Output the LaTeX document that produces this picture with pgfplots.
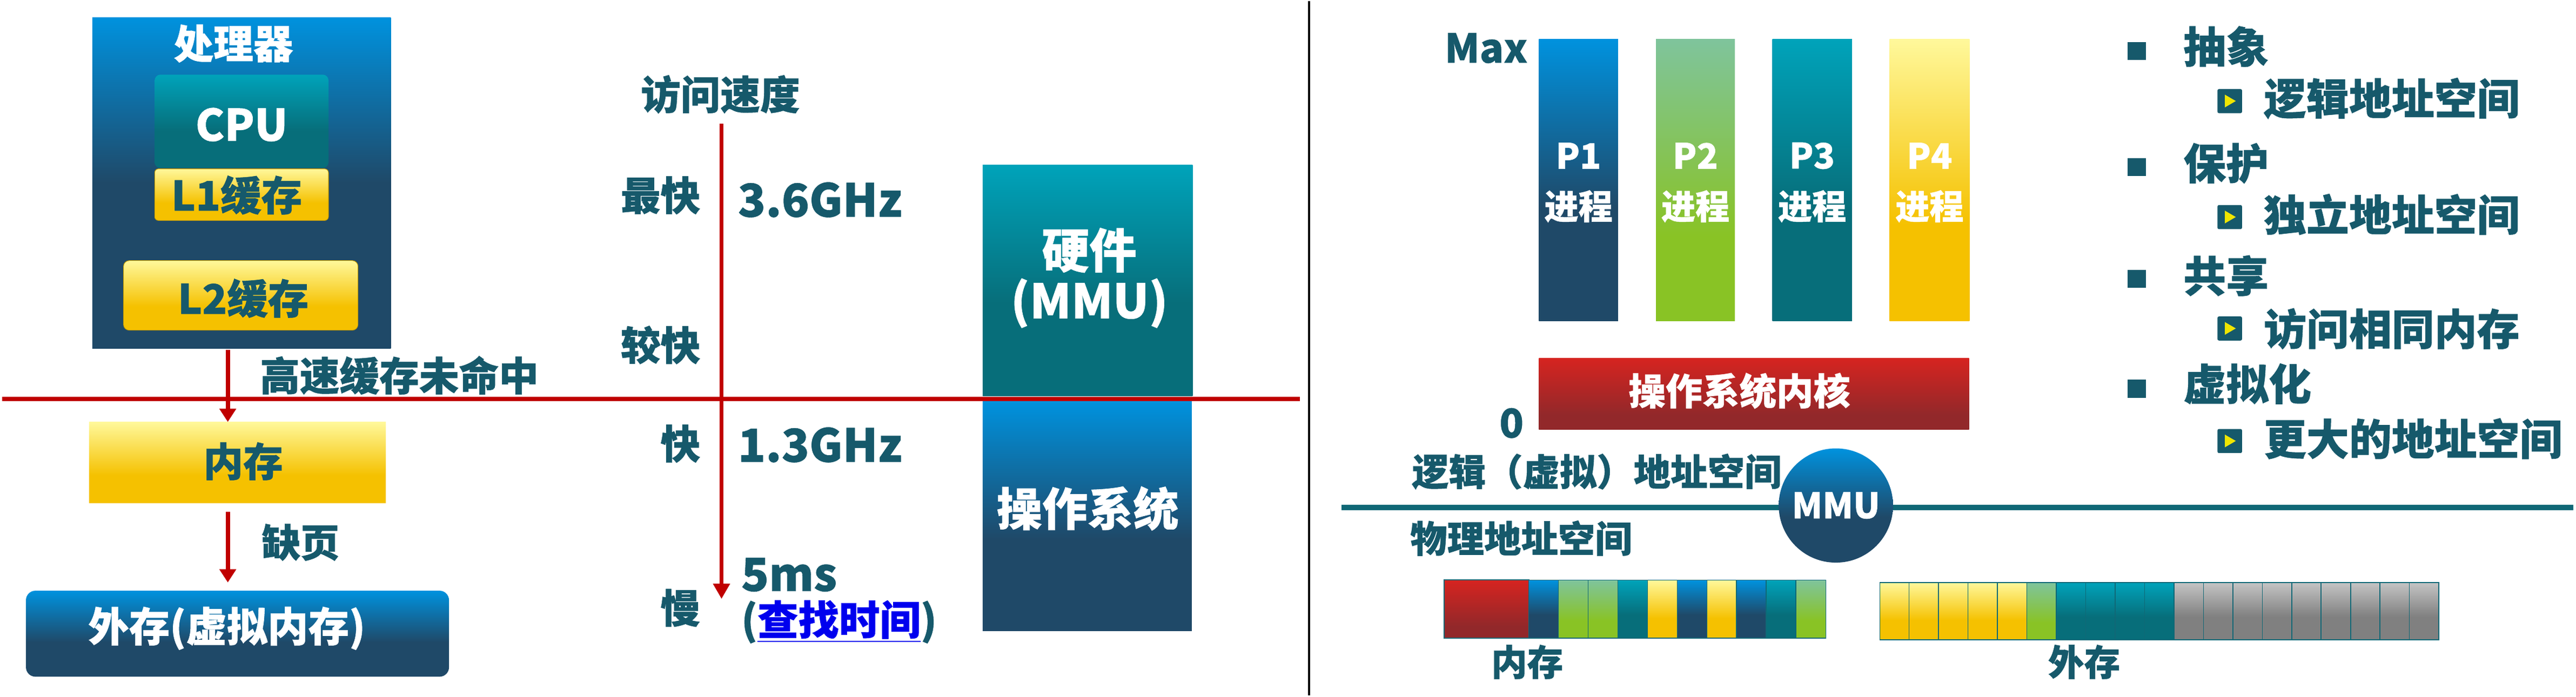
\documentclass[border=0pt]{standalone}
\usepackage{fontspec}
\setmainfont{Noto Sans CJK SC}[BoldFeatures={FakeBold=0.7}]
\usepackage{pgfplots}
\pgfplotsset{compat=1.18}
\usetikzlibrary{arrows.meta}

\definecolor{tcol}{RGB}{22,89,107}
\definecolor{redline}{RGB}{192,0,0}
\definecolor{blueT}{RGB}{0,146,222}
\definecolor{blueB}{RGB}{31,73,104}
\definecolor{tealT}{RGB}{0,163,186}
\definecolor{tealB}{RGB}{7,110,122}
\definecolor{yelT}{RGB}{255,248,155}
\definecolor{yelB}{RGB}{245,193,0}
\definecolor{grnT}{RGB}{127,196,156}
\definecolor{grnB}{RGB}{137,195,37}
\definecolor{redT}{RGB}{214,36,32}
\definecolor{redB}{RGB}{146,40,42}
\definecolor{grayT}{RGB}{196,196,196}
\definecolor{grayB}{RGB}{128,128,128}
\definecolor{linkblue}{RGB}{0,0,238}
\definecolor{tline}{RGB}{16,104,118}
\definecolor{yellowtri}{RGB}{240,230,0}

\pgfdeclareverticalshading{gblue}{100bp}{color(0bp)=(blueB); color(45bp)=(blueB); color(75bp)=(blueT); color(100bp)=(blueT)}
\pgfdeclareverticalshading{gbluep}{100bp}{color(0bp)=(blueB); color(50bp)=(blueB); color(75bp)=(blueT); color(100bp)=(blueT)}
\pgfdeclareverticalshading{gteal}{100bp}{color(0bp)=(tealB); color(45bp)=(tealB); color(75bp)=(tealT); color(100bp)=(tealT)}
\pgfdeclareverticalshading{gyel}{100bp}{color(0bp)=(yelB); color(42bp)=(yelB); color(75bp)=(yelT); color(100bp)=(yelT)}
\pgfdeclareverticalshading{ggrn}{100bp}{color(0bp)=(grnB); color(40bp)=(grnB); color(75bp)=(grnT); color(100bp)=(grnT)}
\pgfdeclareverticalshading{gred}{100bp}{color(0bp)=(redB); color(35bp)=(redB); color(75bp)=(redT); color(100bp)=(redT)}
\pgfdeclareverticalshading{ggray}{100bp}{color(0bp)=(grayB); color(45bp)=(grayB); color(75bp)=(grayT); color(100bp)=(grayT)}

\newcommand{\gbox}[6][]{\addplot[draw=none, shade, shading=#2, #1] coordinates {(#3,#4) (#5,#4) (#5,#6) (#3,#6)} -- cycle;}
\newcommand{\fs}[1]{\fontsize{#1}{#1}\selectfont\bfseries}

\begin{document}
\begin{tikzpicture}
\begin{axis}[width=47.68cm, height=12.89cm, scale only axis,
  xmin=0, xmax=1568, ymin=0, ymax=424, y dir=reverse, hide axis, clip=false]

% background
\addplot[fill=white, draw=none] coordinates {(0,0) (1568,0) (1568,424) (0,424)} -- cycle;

% ---------- left part ----------
\gbox{gbluep}{55}{10}{237}{212}
\gbox[rounded corners=3pt]{gteal}{93}{45}{199}{102}
\gbox[rounded corners=2pt, draw=yelB!80!black, line width=0.3pt]{gyel}{93}{102.5}{199}{134}
\gbox[rounded corners=3pt, draw=yelB!80!black, line width=0.3pt]{gyel}{74}{158.5}{217}{201}
\gbox{gyel}{53}{257}{234}{306.5}
\gbox[rounded corners=5pt]{gblue}{14.5}{360}{272.5}{412.5}

\addplot[redline, line width=2.2pt, -{Triangle[length=7pt,width=8.5pt]}] coordinates {(137.6,213) (137.6,257)};
\addplot[redline, line width=2.2pt, -{Triangle[length=7pt,width=8.5pt]}] coordinates {(137.6,312) (137.6,355)};

\node[text=white, font=\fs{21}] at (141,26) {处理器};
\node[text=white, font=\fs{23}] at (146,75.5) {CPU};
\node[text=tcol, font=\fs{21.5}] at (143,118.5) {L1缓存};
\node[text=tcol, font=\fs{21.5}] at (147,181.5) {L2缓存};
\node[text=tcol, font=\fs{21}, anchor=west, inner sep=0pt] at (157,228.5) {高速缓存未命中};
\node[text=tcol, font=\fs{21}] at (147,281) {内存};
\node[text=tcol, font=\fs{20.5}, anchor=west, inner sep=0pt] at (158,330.5) {缺页};
\node[text=white, font=\fs{21.5}] at (137,383) {外存(虚拟内存)};

% ---------- middle part ----------
\gbox{gteal}{598}{100}{726}{241}
\gbox{gblue}{598}{244.5}{725.5}{384.5}

\addplot[redline, line width=2.3pt] coordinates {(0,243) (791.5,243)};
\addplot[redline, line width=2.2pt, -{Triangle[length=8pt,width=8.5pt]}] coordinates {(438.7,75) (438.7,365)};
\addplot[black, line width=1pt] coordinates {(797,0) (797,424)};

\node[text=tcol, font=\fs{21}] at (438,57) {访问速度};
\node[text=tcol, font=\fs{21}, anchor=east, inner sep=0pt] at (426,118.7) {最快};
\node[text=tcol, font=\fs{21}, anchor=east, inner sep=0pt] at (426,210) {较快};
\node[text=tcol, font=\fs{21}, anchor=east, inner sep=0pt] at (426,270.3) {快};
\node[text=tcol, font=\fs{21}, anchor=east, inner sep=0pt] at (426,370.5) {慢};
\node[text=tcol, font=\fs{24}, anchor=west, inner sep=0pt] at (448.5,121.4) {3.6GHz};
\node[text=tcol, font=\fs{24}, anchor=west, inner sep=0pt] at (448.5,271) {1.3GHz};
\node[text=tcol, font=\fs{24}, anchor=west, inner sep=0pt] at (450.5,350.3) {5ms};
\node[text=tcol, font=\fs{21.5}, anchor=west, inner sep=0pt] at (450.5,379) {(\textcolor{linkblue}{\underline{查找时间}})};
\node[text=white, font=\fs{25}] at (663,152.2) {硬件};
\node[text=white, font=\fs{25}] at (663,184.5) {(MMU)};
\node[text=white, font=\fs{24}] at (662,309.8) {操作系统};

% ---------- right part: address spaces ----------
\gbox{gblue}{937.2}{23.4}{985.4}{195.2}
\gbox{ggrn}{1008.6}{23.4}{1056.7}{195.2}
\gbox{gteal}{1079.6}{23.4}{1128.1}{195.2}
\gbox{gyel}{1151}{23.4}{1199.8}{195.2}
\gbox{gred}{937.2}{218}{1199.5}{261.5}

\node[text=tcol, font=\fs{21}] at (905,28.8) {Max};
\node[text=tcol, font=\fs{21}] at (920.5,257.7) {0};
\node[text=white, font=\fs{18.5}] at (961.3,94.5) {P1};
\node[text=white, font=\fs{18}] at (961.3,125.4) {进程};
\node[text=white, font=\fs{18.5}] at (1032.6,94.5) {P2};
\node[text=white, font=\fs{18}] at (1032.6,125.4) {进程};
\node[text=white, font=\fs{18.5}] at (1103.8,94.5) {P3};
\node[text=white, font=\fs{18}] at (1103.8,125.4) {进程};
\node[text=white, font=\fs{18.5}] at (1175.4,94.5) {P4};
\node[text=white, font=\fs{18}] at (1175.4,125.4) {进程};
\node[text=white, font=\fs{19.5}] at (1059.5,238) {操作系统内核};

\node[text=tcol, font=\fs{19.5}, anchor=west, inner sep=0pt] at (859.5,287.3) {逻辑（虚拟）地址空间};
\node[text=tcol, font=\fs{19.5}, anchor=west, inner sep=0pt] at (858.5,328) {物理地址空间};

\addplot[tline, line width=2.9pt] coordinates {(816.8,309.2) (1568,309.2)};
\node[circle, shade, shading=gblue, minimum size=2.12cm, inner sep=0pt, text=white, font=\fs{18.5}] at (1118.3,308) {MMU};

% physical memory strip
\gbox[draw=tline, line width=0.5pt]{gred}{879.3}{353.5}{931}{389}
\gbox[draw=tline, line width=0.4pt]{gblue}{931}{353.5}{949.1}{389}
\gbox[draw=tline, line width=0.4pt]{ggrn}{949.1}{353.5}{967.2}{389}
\gbox[draw=tline, line width=0.4pt]{ggrn}{967.2}{353.5}{985.3}{389}
\gbox[draw=tline, line width=0.4pt]{gteal}{985.3}{353.5}{1003.4}{389}
\gbox[draw=tline, line width=0.4pt]{gyel}{1003.4}{353.5}{1021.5}{389}
\gbox[draw=tline, line width=0.4pt]{gblue}{1021.5}{353.5}{1039.6}{389}
\gbox[draw=tline, line width=0.4pt]{gyel}{1039.6}{353.5}{1057.7}{389}
\gbox[draw=tline, line width=0.4pt]{gblue}{1057.7}{353.5}{1075.8}{389}
\gbox[draw=tline, line width=0.4pt]{gteal}{1075.8}{353.5}{1093.9}{389}
\gbox[draw=tline, line width=0.4pt]{ggrn}{1093.9}{353.5}{1112.2}{389}

% disk strip
\gbox[draw=tline, line width=0.4pt]{gyel}{1145.1}{355}{1163.0}{390}
\gbox[draw=tline, line width=0.4pt]{gyel}{1163.0}{355}{1180.9}{390}
\gbox[draw=tline, line width=0.4pt]{gyel}{1180.9}{355}{1198.8}{390}
\gbox[draw=tline, line width=0.4pt]{gyel}{1198.8}{355}{1216.8}{390}
\gbox[draw=tline, line width=0.4pt]{gyel}{1216.8}{355}{1234.7}{390}
\gbox[draw=tline, line width=0.4pt]{ggrn}{1234.7}{355}{1252.7}{390}
\gbox[draw=tline, line width=0.4pt]{gteal}{1252.7}{355}{1270.6}{390}
\gbox[draw=tline, line width=0.4pt]{gteal}{1270.6}{355}{1288.6}{390}
\gbox[draw=tline, line width=0.4pt]{gteal}{1288.6}{355}{1306.5}{390}
\gbox[draw=tline, line width=0.4pt]{gteal}{1306.5}{355}{1324.5}{390}
\gbox[draw=tline, line width=0.4pt]{ggray}{1324.5}{355}{1342.4}{390}
\gbox[draw=tline, line width=0.4pt]{ggray}{1342.4}{355}{1360.4}{390}
\gbox[draw=tline, line width=0.4pt]{ggray}{1360.4}{355}{1378.3}{390}
\gbox[draw=tline, line width=0.4pt]{ggray}{1378.3}{355}{1396.3}{390}
\gbox[draw=tline, line width=0.4pt]{ggray}{1396.3}{355}{1414.2}{390}
\gbox[draw=tline, line width=0.4pt]{ggray}{1414.2}{355}{1432.2}{390}
\gbox[draw=tline, line width=0.4pt]{ggray}{1432.2}{355}{1450.1}{390}
\gbox[draw=tline, line width=0.4pt]{ggray}{1450.1}{355}{1468.1}{390}
\gbox[draw=tline, line width=0.4pt]{ggray}{1468.1}{355}{1486.0}{390}

\node[text=tcol, font=\fs{19}] at (930,403.5) {内存};
\node[text=tcol, font=\fs{19}] at (1269.7,403.5) {外存};

% ---------- right part: bullets ----------
\addplot[fill=tcol, draw=none] coordinates {(1296.3,25.1) (1307.3,25.1) (1307.3,36.1) (1296.3,36.1)} -- cycle;
\addplot[fill=tcol, draw=none] coordinates {(1296.3,96.0) (1307.3,96.0) (1307.3,107.0) (1296.3,107.0)} -- cycle;
\addplot[fill=tcol, draw=none] coordinates {(1296.3,164.2) (1307.3,164.2) (1307.3,175.2) (1296.3,175.2)} -- cycle;
\addplot[fill=tcol, draw=none] coordinates {(1296.3,231.2) (1307.3,231.2) (1307.3,242.2) (1296.3,242.2)} -- cycle;

\addplot[fill=tcol, draw=none, rounded corners=0.8pt] coordinates {(1351,53.8) (1366,53.8) (1366,68.5) (1351,68.5)} -- cycle;
\addplot[fill=tcol, draw=none, rounded corners=0.8pt] coordinates {(1351,124.6) (1366,124.6) (1366,139.3) (1351,139.3)} -- cycle;
\addplot[fill=tcol, draw=none, rounded corners=0.8pt] coordinates {(1351,192.6) (1366,192.6) (1366,207.3) (1351,207.3)} -- cycle;
\addplot[fill=tcol, draw=none, rounded corners=0.8pt] coordinates {(1351,261.3) (1366,261.3) (1366,276.0) (1351,276.0)} -- cycle;
\addplot[fill=yellowtri, draw=none] coordinates {(1355.5,57.2) (1362.2,61.1) (1355.5,65.0)} -- cycle;
\addplot[fill=yellowtri, draw=none] coordinates {(1355.5,128.0) (1362.2,131.9) (1355.5,135.8)} -- cycle;
\addplot[fill=yellowtri, draw=none] coordinates {(1355.5,196.0) (1362.2,199.9) (1355.5,203.8)} -- cycle;
\addplot[fill=yellowtri, draw=none] coordinates {(1355.5,264.7) (1362.2,268.6) (1355.5,272.5)} -- cycle;

\node[text=tcol, font=\fs{22.5}, anchor=west, inner sep=0pt] at (1330,27.8) {抽象};
\node[text=tcol, font=\fs{22.5}, anchor=west, inner sep=0pt] at (1330,99.1) {保护};
\node[text=tcol, font=\fs{22.5}, anchor=west, inner sep=0pt] at (1330,167.7) {共享};
\node[text=tcol, font=\fs{22.5}, anchor=west, inner sep=0pt] at (1330,233.7) {虚拟化};
\node[text=tcol, font=\fs{22.5}, anchor=west, inner sep=0pt] at (1379,59.5) {逻辑地址空间};
\node[text=tcol, font=\fs{22.5}, anchor=west, inner sep=0pt] at (1379,130.3) {独立地址空间};
\node[text=tcol, font=\fs{22.5}, anchor=west, inner sep=0pt] at (1379,200.1) {访问相同内存};
\node[text=tcol, font=\fs{22.5}, anchor=west, inner sep=0pt] at (1379,267.2) {更大的地址空间};

\end{axis}
\end{tikzpicture}
\end{document}
